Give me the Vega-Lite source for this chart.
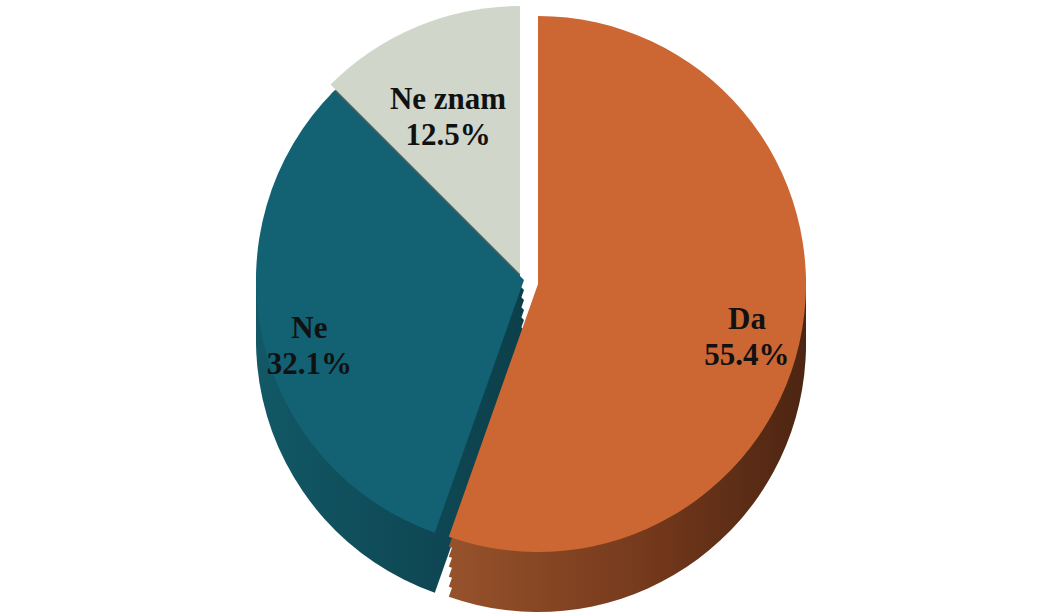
{
  "$schema": "https://vega.github.io/schema/vega-lite/v6.json",
  "width": 1048,
  "height": 616,
  "autosize": {"type": "fit", "contains": "padding"},
  "padding": 0,
  "background": "white",
  "config": {"view": {"stroke": null}, "arc": {"strokeWidth": 0}},
  "data": {
    "values": [
      {"category": "Da", "value": 55.4, "order": 1},
      {"category": "Ne", "value": 32.1, "order": 2},
      {"category": "Ne znam", "value": 12.5, "order": 3}
    ]
  },
  "transform": [
    {"stack": "value", "groupby": [], "sort": [{"field": "order", "order": "ascending"}], "as": ["v0", "v1"]},
    {"calculate": "datum.category + '\\n' + format(datum.value, '.1f') + '%'", "as": "label"}
  ],
  "encoding": {
    "theta": {"field": "v0", "type": "quantitative", "scale": {"domain": [0, 100]}},
    "theta2": {"field": "v1"}
  },
  "layer": [
    {"transform": [{"filter": "datum.category == 'Ne znam'"}], "mark": {"type": "arc", "outerRadius": 268, "xOffset": -4, "yOffset": -24, "fill": "#5a5f5b"}},
    {"transform": [{"filter": "datum.category == 'Ne znam'"}], "mark": {"type": "arc", "outerRadius": 268, "xOffset": -4, "yOffset": -14, "fill": "#5a5f5b"}},
    {"transform": [{"filter": "datum.category == 'Ne znam'"}], "mark": {"type": "arc", "outerRadius": 268, "xOffset": -4, "yOffset": -4, "fill": "#5a5f5b"}},
    {"transform": [{"filter": "datum.category == 'Ne znam'"}], "mark": {"type": "arc", "outerRadius": 268, "xOffset": -4, "yOffset": 6, "fill": "#5a5f5b"}},
    {"transform": [{"filter": "datum.category == 'Ne znam'"}], "mark": {"type": "arc", "outerRadius": 268, "xOffset": -4, "yOffset": 16, "fill": "#5a5f5b"}},
    {"transform": [{"filter": "datum.category == 'Ne znam'"}], "mark": {"type": "arc", "outerRadius": 268, "xOffset": -4, "yOffset": 26, "fill": "#5a5f5b"}},

    {"transform": [{"filter": "datum.category == 'Ne'"}], "mark": {"type": "arc", "outerRadius": 268, "xOffset": 0, "yOffset": -18, "fill": {"gradient": "linear", "x1": 0, "y1": 0, "x2": 1, "y2": 0, "stops": [{"offset": 0, "color": "#125866"}, {"offset": 1, "color": "#0c3f4a"}]}}},
    {"transform": [{"filter": "datum.category == 'Ne'"}], "mark": {"type": "arc", "outerRadius": 268, "xOffset": 0, "yOffset": -8, "fill": {"gradient": "linear", "x1": 0, "y1": 0, "x2": 1, "y2": 0, "stops": [{"offset": 0, "color": "#125866"}, {"offset": 1, "color": "#0c3f4a"}]}}},
    {"transform": [{"filter": "datum.category == 'Ne'"}], "mark": {"type": "arc", "outerRadius": 268, "xOffset": 0, "yOffset": 2, "fill": {"gradient": "linear", "x1": 0, "y1": 0, "x2": 1, "y2": 0, "stops": [{"offset": 0, "color": "#125866"}, {"offset": 1, "color": "#0c3f4a"}]}}},
    {"transform": [{"filter": "datum.category == 'Ne'"}], "mark": {"type": "arc", "outerRadius": 268, "xOffset": 0, "yOffset": 12, "fill": {"gradient": "linear", "x1": 0, "y1": 0, "x2": 1, "y2": 0, "stops": [{"offset": 0, "color": "#125866"}, {"offset": 1, "color": "#0c3f4a"}]}}},
    {"transform": [{"filter": "datum.category == 'Ne'"}], "mark": {"type": "arc", "outerRadius": 268, "xOffset": 0, "yOffset": 22, "fill": {"gradient": "linear", "x1": 0, "y1": 0, "x2": 1, "y2": 0, "stops": [{"offset": 0, "color": "#125866"}, {"offset": 1, "color": "#0c3f4a"}]}}},
    {"transform": [{"filter": "datum.category == 'Ne'"}], "mark": {"type": "arc", "outerRadius": 268, "xOffset": 0, "yOffset": 32, "fill": {"gradient": "linear", "x1": 0, "y1": 0, "x2": 1, "y2": 0, "stops": [{"offset": 0, "color": "#125866"}, {"offset": 1, "color": "#0c3f4a"}]}}},

    {"transform": [{"filter": "datum.category == 'Da'"}], "mark": {"type": "arc", "outerRadius": 268, "xOffset": 14, "yOffset": -14, "fill": {"gradient": "linear", "x1": 0, "y1": 0, "x2": 1, "y2": 0, "stops": [{"offset": 0, "color": "#96522b"}, {"offset": 0.55, "color": "#75391c"}, {"offset": 1, "color": "#4c2512"}]}}},
    {"transform": [{"filter": "datum.category == 'Da'"}], "mark": {"type": "arc", "outerRadius": 268, "xOffset": 14, "yOffset": -4, "fill": {"gradient": "linear", "x1": 0, "y1": 0, "x2": 1, "y2": 0, "stops": [{"offset": 0, "color": "#96522b"}, {"offset": 0.55, "color": "#75391c"}, {"offset": 1, "color": "#4c2512"}]}}},
    {"transform": [{"filter": "datum.category == 'Da'"}], "mark": {"type": "arc", "outerRadius": 268, "xOffset": 14, "yOffset": 6, "fill": {"gradient": "linear", "x1": 0, "y1": 0, "x2": 1, "y2": 0, "stops": [{"offset": 0, "color": "#96522b"}, {"offset": 0.55, "color": "#75391c"}, {"offset": 1, "color": "#4c2512"}]}}},
    {"transform": [{"filter": "datum.category == 'Da'"}], "mark": {"type": "arc", "outerRadius": 268, "xOffset": 14, "yOffset": 16, "fill": {"gradient": "linear", "x1": 0, "y1": 0, "x2": 1, "y2": 0, "stops": [{"offset": 0, "color": "#96522b"}, {"offset": 0.55, "color": "#75391c"}, {"offset": 1, "color": "#4c2512"}]}}},
    {"transform": [{"filter": "datum.category == 'Da'"}], "mark": {"type": "arc", "outerRadius": 268, "xOffset": 14, "yOffset": 26, "fill": {"gradient": "linear", "x1": 0, "y1": 0, "x2": 1, "y2": 0, "stops": [{"offset": 0, "color": "#96522b"}, {"offset": 0.55, "color": "#75391c"}, {"offset": 1, "color": "#4c2512"}]}}},
    {"transform": [{"filter": "datum.category == 'Da'"}], "mark": {"type": "arc", "outerRadius": 268, "xOffset": 14, "yOffset": 36, "fill": {"gradient": "linear", "x1": 0, "y1": 0, "x2": 1, "y2": 0, "stops": [{"offset": 0, "color": "#96522b"}, {"offset": 0.55, "color": "#75391c"}, {"offset": 1, "color": "#4c2512"}]}}},

    {"transform": [{"filter": "datum.category == 'Ne znam'"}], "mark": {"type": "arc", "outerRadius": 268, "xOffset": -4, "yOffset": -34, "fill": "#d0d6ca"}},
    {"transform": [{"filter": "datum.category == 'Ne'"}], "mark": {"type": "arc", "outerRadius": 268, "xOffset": 0, "yOffset": -28, "fill": "#126274"}},
    {"transform": [{"filter": "datum.category == 'Da'"}], "mark": {"type": "arc", "outerRadius": 268, "xOffset": 14, "yOffset": -24, "fill": "#cc6633"}},

    {
      "mark": {"type": "text", "radius": 212, "xOffset": 14, "yOffset": -24, "font": "Liberation Serif", "fontWeight": "bold", "fontSize": 31, "lineHeight": 36, "lineBreak": "\n", "color": "#111111", "align": "center", "baseline": "middle"},
      "encoding": {
        "theta": {"field": "value", "type": "quantitative", "stack": true, "scale": {"domain": [0, 100]}},
        "theta2": null,
        "order": {"field": "order", "type": "quantitative"},
        "text": {"condition": {"test": "datum.category == 'Da'", "field": "label"}, "value": ""}
      }
    },
    {
      "mark": {"type": "text", "radius": 220, "xOffset": 0, "yOffset": -28, "font": "Liberation Serif", "fontWeight": "bold", "fontSize": 31, "lineHeight": 36, "lineBreak": "\n", "color": "#111111", "align": "center", "baseline": "middle"},
      "encoding": {
        "theta": {"field": "value", "type": "quantitative", "stack": true, "scale": {"domain": [0, 100]}},
        "theta2": null,
        "order": {"field": "order", "type": "quantitative"},
        "text": {"condition": {"test": "datum.category == 'Ne'", "field": "label"}, "value": ""}
      }
    },
    {
      "mark": {"type": "text", "radius": 188, "xOffset": -4, "yOffset": -34, "font": "Liberation Serif", "fontWeight": "bold", "fontSize": 31, "lineHeight": 36, "lineBreak": "\n", "color": "#111111", "align": "center", "baseline": "middle"},
      "encoding": {
        "theta": {"field": "value", "type": "quantitative", "stack": true, "scale": {"domain": [0, 100]}},
        "theta2": null,
        "order": {"field": "order", "type": "quantitative"},
        "text": {"condition": {"test": "datum.category == 'Ne znam'", "field": "label"}, "value": ""}
      }
    }
  ]
}
